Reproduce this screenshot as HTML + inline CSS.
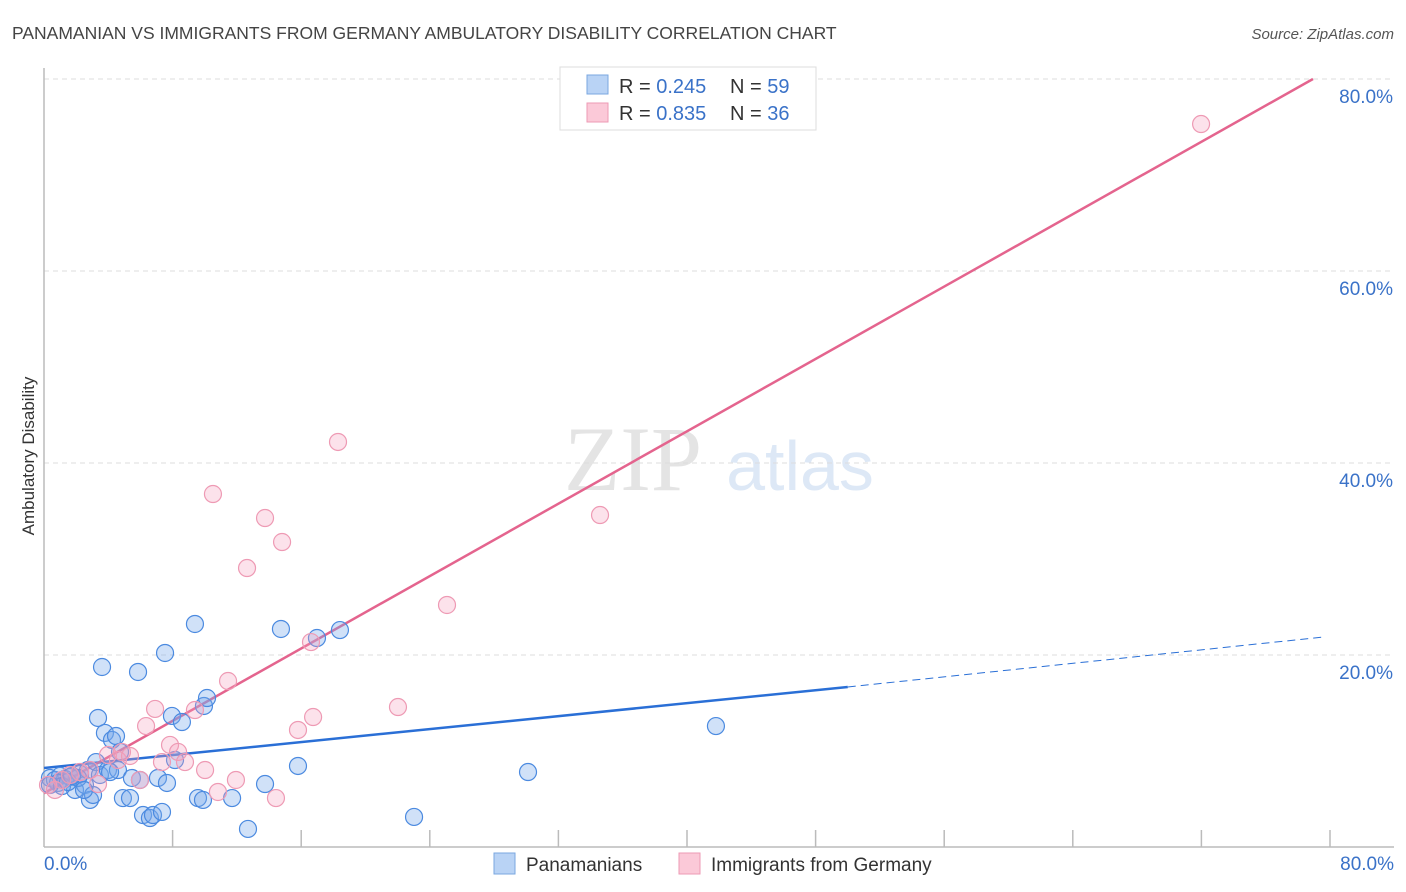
<!DOCTYPE html>
<html><head><meta charset="utf-8"><style>
body{margin:0;background:#fff;font-family:"Liberation Sans",sans-serif;}
svg{display:block}
</style></head><body>
<svg id="c" width="1406" height="892" xmlns="http://www.w3.org/2000/svg">
<text x="12" y="39" font-size="17.5" fill="#444">PANAMANIAN VS IMMIGRANTS FROM GERMANY AMBULATORY DISABILITY CORRELATION CHART</text>
<text x="1394" y="39" font-size="15" fill="#555" font-style="italic" text-anchor="end">Source: ZipAtlas.com</text>
<g>
<text x="633" y="490" font-size="92" fill="#e4e4e4" text-anchor="middle" font-family="Liberation Serif,serif">ZIP</text>
<text x="800" y="490" font-size="70" fill="#dde8f6" text-anchor="middle">atlas</text>
</g>
<g id="grid"></g>
<g id="axes"></g>
<g id="lines"></g>
<g id="pts"></g>
<text transform="translate(34,456) rotate(-90)" font-size="17" fill="#333" text-anchor="middle">Ambulatory Disability</text>
<g>
<rect x="560" y="67" width="256" height="63" fill="#fff" stroke="#ddd"/>
<rect x="587" y="75" width="21" height="19" fill="#b9d3f5" stroke="#7aa7e0"/>
<rect x="587" y="103" width="21" height="19" fill="#fbc9d8" stroke="#ee9ab4"/>
<text x="619" y="93" font-size="20" fill="#333">R = <tspan fill="#3a72c8">0.245</tspan></text>
<text x="730" y="93" font-size="20" fill="#333">N = <tspan fill="#3a72c8">59</tspan></text>
<text x="619" y="120" font-size="20" fill="#333">R = <tspan fill="#3a72c8">0.835</tspan></text>
<text x="730" y="120" font-size="20" fill="#333">N = <tspan fill="#3a72c8">36</tspan></text>
</g>
<g>
<rect x="494" y="853" width="21" height="21" fill="#b9d3f5" stroke="#7aa7e0"/>
<text x="526" y="871" font-size="19" fill="#333">Panamanians</text>
<rect x="679" y="853" width="21" height="21" fill="#fbc9d8" stroke="#ee9ab4"/>
<text x="711" y="871" font-size="19" fill="#333">Immigrants from Germany</text>
</g>
</svg>
<script>
const blueX=[0.37,0.68,1.0,1.31,1.62,0.87,1.93,2.24,2.55,2.74,2.86,3.05,3.24,3.36,3.48,3.61,3.79,3.98,4.23,4.48,4.6,4.73,4.91,5.35,5.47,5.85,6.16,6.59,6.78,7.09,7.34,7.53,7.65,7.96,8.15,8.58,9.39,9.58,9.89,9.95,10.14,11.7,12.69,13.75,14.74,15.8,16.98,18.41,23.02,30.11,41.8,0.37,1.12,1.49,2.12,2.49,4.11,5.97,1.74];
const blueY=[7.19,6.98,7.4,7.08,7.29,6.67,5.94,7.6,6.46,8.02,4.9,5.42,8.85,13.44,7.5,18.75,11.88,8.02,11.15,11.56,8.02,9.9,5.1,5.1,7.19,18.23,3.33,3.02,3.33,7.19,3.65,20.21,6.67,13.65,9.06,13.02,23.23,5.1,4.9,14.69,15.52,5.1,1.88,6.56,22.71,8.44,21.77,22.6,3.13,7.81,12.6,6.46,6.35,6.77,7.19,5.94,7.81,6.98,7.4];
const pinkX=[0.25,0.68,1.12,1.62,2.24,2.86,3.36,3.98,4.6,4.85,5.35,5.97,6.35,6.91,7.34,7.84,8.34,8.77,9.39,10.02,10.51,10.82,11.45,11.94,12.63,13.75,14.43,14.81,15.8,16.61,16.74,18.29,22.02,25.07,34.59,71.98];
const pinkY=[6.46,5.94,6.98,7.5,7.81,8.02,6.56,9.58,9.06,9.9,9.48,6.98,12.6,14.38,8.85,10.63,9.9,8.85,14.27,8.02,36.77,5.73,17.29,6.98,29.06,34.27,5.1,31.77,12.19,21.35,13.54,42.19,14.58,25.21,34.58,75.31];
const blueTrend=[[0,8.23],[50,16.67]];
const blueTrendExt=[[50,16.67],[79.75,21.9]];
const pinkTrend=[[0,5.6],[78.94,80]];
const yTicks=[20,40,60,80];
const xTickVals=[8,16,24,32,40,48,56,64,72,80];
const NS="http://www.w3.org/2000/svg";
const sx=v=>44+v*16.075, sy=v=>847-v*9.6;
function mk(tag,at,parent){const e=document.createElementNS(NS,tag);for(const k in at)e.setAttribute(k,at[k]);document.getElementById(parent).appendChild(e);return e;}
yTicks.forEach(t=>{
 const g=mk('line',{x1:44,x2:1394,y1:sy(t),y2:sy(t),stroke:'#ddd','stroke-dasharray':'5,4'},'grid');
 
 
 const l=mk('text',{x:1393,y:sy(t)+24,'font-size':19,fill:'#3a72c8','text-anchor':'end'},'axes');
 l.textContent=t.toFixed(1)+'%';
 
 
});
const ax=mk('line',{x1:44,x2:44,y1:68,y2:847,stroke:'#bbb','stroke-width':1.5},'axes');


const bx=mk('line',{x1:44,x2:1394,y1:847,y2:847,stroke:'#bbb','stroke-width':1.5},'axes');


xTickVals.forEach(t=>{
 const k=mk('line',{x1:sx(t),x2:sx(t),y1:830,y2:847,stroke:'#bbb','stroke-width':1.5},'axes');
 
 
});
const xl0=mk('text',{x:44,y:870,'font-size':19,fill:'#3a72c8'},'axes');xl0.textContent='0.0%';


const xl1=mk('text',{x:1394,y:870,'font-size':19,fill:'#3a72c8','text-anchor':'end'},'axes');xl1.textContent='80.0%';


blueX.forEach((v,i)=>{
 const c=mk('circle',{cx:sx(v),cy:sy(blueY[i]),r:8.5,fill:'rgba(120,170,235,0.35)',stroke:'#4b8ae0','stroke-width':1.2},'pts');
 
 
});
pinkX.forEach((v,i)=>{
 const c=mk('circle',{cx:sx(v),cy:sy(pinkY[i]),r:8.5,fill:'rgba(245,160,190,0.3)',stroke:'#ee9ab4','stroke-width':1.2},'pts');
 
 
});
const bt=mk('line',{x1:sx(blueTrend[0][0]),y1:sy(blueTrend[0][1]),x2:sx(blueTrend[1][0]),y2:sy(blueTrend[1][1]),stroke:'#2a6fd6','stroke-width':2.5},'lines');


const be=mk('line',{x1:sx(blueTrendExt[0][0]),y1:sy(blueTrendExt[0][1]),x2:sx(blueTrendExt[1][0]),y2:sy(blueTrendExt[1][1]),stroke:'#2a6fd6','stroke-width':1,'stroke-dasharray':'8,5'},'lines');


const pt=mk('line',{x1:sx(pinkTrend[0][0]),y1:sy(pinkTrend[0][1]),x2:sx(pinkTrend[1][0]),y2:sy(pinkTrend[1][1]),stroke:'#e4648e','stroke-width':2.5},'lines');


</script>
</body></html>
